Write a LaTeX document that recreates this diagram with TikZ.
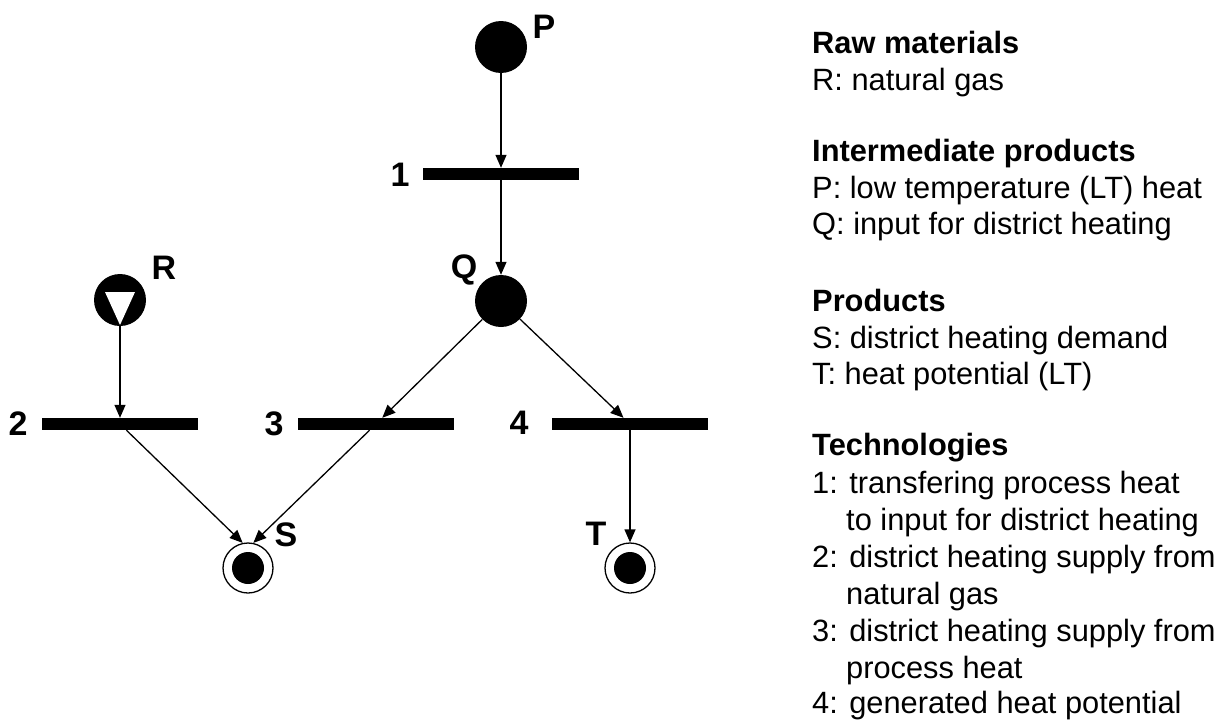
\documentclass[tikz,border=0pt]{standalone}
\usepackage{fontspec}
\setmainfont{Liberation Sans}
\usetikzlibrary{arrows.meta,calc}
\begin{document}
\begin{tikzpicture}[x=1pt,y=-1pt,
  every node/.style={font=\fontsize{30.8}{36.5}\selectfont},
  place/.style={circle,fill=black,minimum size=52pt,inner sep=0pt},
  goal/.style={circle,draw=black,line width=1.3pt,minimum size=50pt,inner sep=0pt,
    path picture={\fill[black] (path picture bounding box.center) circle (16pt);}},
  bar/.style={rectangle,fill=black,minimum width=156pt,minimum height=12pt,inner sep=0pt},
  lbl/.style={font=\fontsize{34}{40}\selectfont\bfseries,inner sep=0pt},
  flow/.style={line width=1.3pt,-{Triangle[length=13pt,width=11pt]}},
  legend/.style={anchor=base west,inner sep=0pt},
  legendhead/.style={legend,font=\fontsize{30.8}{36.5}\selectfont\bfseries},
]
\useasboundingbox (0,0) rectangle (1223,720);

% places, transitions and goals
\node[place] (P) at (501,47) {};
\node[bar] (b1) at (501,174) {};
\node[place] (Q) at (501,301) {};
\node[place] (R) at (120,300) {};
\fill[white] ($(R)+(-15,-8)$) -- ($(R)+(15,-8)$) -- ($(R)+(0,25)$) -- cycle;
\node[bar] (b2) at (120,424) {};
\node[bar] (b3) at (376,424) {};
\node[bar] (b4) at (630,424) {};
\node[goal] (S) at (248,568) {};
\node[goal] (T) at (630,568) {};

% labels
\node[lbl] (lP) at (544,27) {P};
\node[lbl] (lQ) at (464,270) {Q};
\node[lbl] (lR) at (164,268) {R};
\node[lbl] (lS) at (286,535) {S};
\node[lbl] (lT) at (596,534) {T};
\node[lbl] (l1) at (400,175) {1};
\node[lbl] (l2) at (18,424) {2};
\node[lbl] (l3) at (274,424) {3};
\node[lbl] (l4) at (519,423) {4};

% flows
\draw[flow] (P) -- (b1);
\draw[flow] (b1) -- (Q);
\draw[flow] (R) -- (b2);
\draw[flow] (Q) -- (b3);
\draw[flow] (Q) -- (b4);
\draw[flow] (b2) -- (S.102);
\draw[flow] (b3) -- (S.78);
\draw[flow] (b4) -- (T);

% legend
\node[legendhead] (h1) at (812,53) {Raw materials};
\node[legend] (e1) at (812,90) {R: natural gas};
\node[legendhead] (h2) at (812,161) {Intermediate products};
\node[legend] (e2) at (812,198) {P: low temperature (LT) heat};
\node[legend] (e3) at (812,234) {Q: input for district heating};
\node[legendhead] (h3) at (812,311) {Products};
\node[legend] (e4) at (812,348) {S: district heating demand};
\node[legend] (e5) at (812,384) {T: heat potential (LT)};
\node[legendhead] (h4) at (812,455) {Technologies};
\node[legend] (e6) at (812,493) {1: transfering process heat};
\node[legend] (e7) at (846,530) {to input for district heating};
\node[legend] (e8) at (812,567) {2: district heating supply from};
\node[legend] (e9) at (846,604) {natural gas};
\node[legend] (e10) at (812,641) {3: district heating supply from};
\node[legend] (e11) at (846,678) {process heat};
\node[legend] (e12) at (812,713) {4: generated heat potential};
\end{tikzpicture}
\end{document}
